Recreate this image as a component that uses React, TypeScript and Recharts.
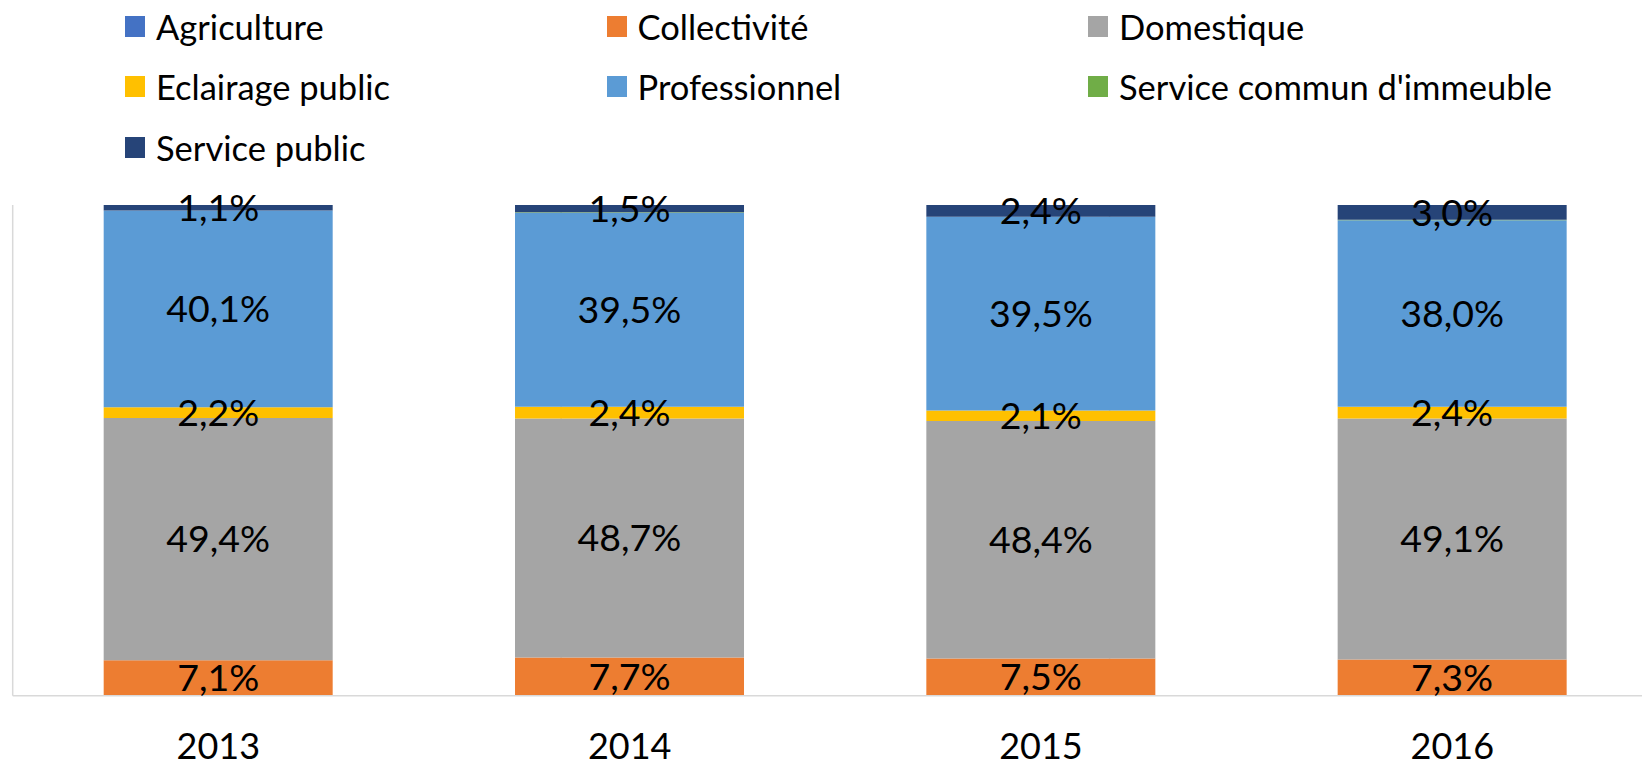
import { BarChart, Bar, XAxis, YAxis, CartesianGrid, Legend, LabelList } from "recharts";

const years = ["2013", "2014", "2015", "2016"];

// parts du total (%)
const agriculture = [0.1, 0.1, 0.1, 0.1];
const collectivite = [7.1, 7.7, 7.5, 7.3];
const domestique = [49.4, 48.7, 48.4, 49.1];
const eclairage = [2.2, 2.4, 2.1, 2.4];
const professionnel = [40.1, 39.5, 39.5, 38.0];
const serviceCommun = [0.0, 0.1, 0.0, 0.1];
const servicePublic = [1.1, 1.5, 2.4, 3.0];

const series = [
  { key: "agriculture", name: "Agriculture", color: "#4472C4", values: agriculture, label: false },
  { key: "collectivite", name: "Collectivité", color: "#ED7D31", values: collectivite, label: true },
  { key: "domestique", name: "Domestique", color: "#A5A5A5", values: domestique, label: true },
  { key: "eclairage", name: "Eclairage public", color: "#FFC000", values: eclairage, label: true },
  { key: "professionnel", name: "Professionnel", color: "#5B9BD5", values: professionnel, label: true },
  { key: "serviceCommun", name: "Service commun d'immeuble", color: "#70AD47", values: serviceCommun, label: false },
  { key: "servicePublic", name: "Service public", color: "#264478", values: servicePublic, label: true },
];

const data = years.map((year, i) => {
  const row: Record<string, string | number> = { year };
  series.forEach((s) => (row[s.key] = s.values[i]));
  return row;
});

const FONT = "Lato, 'Open Sans', sans-serif";
const fmt = (v: number) => `${v.toFixed(1).replace(".", ",")}%`;

function LegendBox() {
  return (
    <div
      style={{
        height: 180,
        paddingLeft: 125,
        display: "grid",
        gridTemplateColumns: "481.5px 481.5px 481.5px",
        gridAutoRows: "60.5px",
        marginTop: -4,
        fontFamily: FONT,
        fontSize: 34.5,
        color: "#000",
      }}
    >
      {series.map((s) => (
        <div key={s.key} style={{ display: "flex", alignItems: "center", whiteSpace: "nowrap" }}>
          <span style={{ width: 20, height: 21, background: s.color, marginRight: 11, flex: "none" }} />
          <span>{s.name}</span>
        </div>
      ))}
    </div>
  );
}

export default function App() {
  return (
    <div
      style={{
        position: "absolute",
        left: 0,
        top: 0,
        width: 1642,
        height: 766,
        overflow: "hidden",
        background: "#fff",
        fontFamily: FONT,
      }}
    >
      <BarChart
        width={1670}
        height={766}
        data={data}
        stackOffset="expand"
        barCategoryGap="22.12%"
        margin={{ top: 29, left: 12.7, right: 12, bottom: 10.3 }}
      >
        <XAxis xAxisId="grid" type="number" domain={[0, 4]} ticks={[0, 1, 2, 3, 4]} hide />
        <CartesianGrid xAxisId="grid" horizontal={false} stroke="#D9D9D9" strokeWidth={1.5} />
        <XAxis
          dataKey="year"
          height={60}
          axisLine={{ stroke: "#D9D9D9", strokeWidth: 1.5 }}
          tickLine={false}
          tickMargin={32}
          tick={{ fontSize: 36, fill: "#000", fontFamily: FONT }}
        />
        <YAxis hide domain={[0, 1]} />
        <Legend verticalAlign="top" align="left" content={() => <LegendBox />} wrapperStyle={{ left: 0, top: 0, width: 1642 }} />
        {series.map((s) => (
          <Bar key={s.key} dataKey={s.key} name={s.name} stackId="a" fill={s.color} isAnimationActive={false}>
            {s.label && (
              <LabelList
                dataKey={s.key}
                position="center"
                formatter={(v: number) => fmt(Number(v))}
                fill="#000"
                fontSize={37.5}
                fontFamily={FONT}
              />
            )}
          </Bar>
        ))}
      </BarChart>
    </div>
  );
}
